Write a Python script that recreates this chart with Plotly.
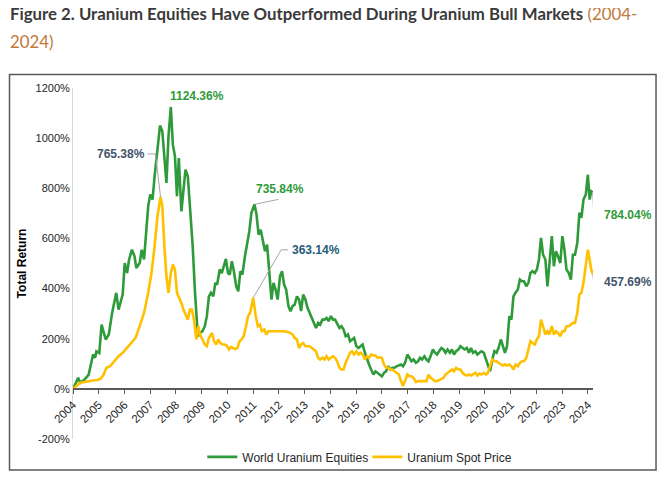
import plotly.graph_objects as go

# ---------------- data ----------------
years = list(range(2004, 2025))
year_labels = [str(y) for y in years]
y_ticks = [-200, 0, 200, 400, 600, 800, 1000, 1200]
y_tick_labels = [f"{v}%" for v in y_ticks]

equities_x = [
    2004.00, 2004.20, 2004.28, 2004.45, 2004.61, 2004.69, 2004.78, 2004.86, 2004.91, 2005.02,
    2005.11, 2005.27, 2005.39, 2005.52, 2005.68, 2005.77, 2005.93, 2006.01, 2006.10, 2006.18,
    2006.29, 2006.39, 2006.46, 2006.59, 2006.67, 2006.76, 2006.84, 2006.92, 2007.00, 2007.09,
    2007.17, 2007.25, 2007.38, 2007.47, 2007.55, 2007.63, 2007.71, 2007.80, 2007.88, 2007.96,
    2008.04, 2008.11, 2008.21, 2008.29, 2008.37, 2008.46, 2008.52, 2008.60, 2008.65, 2008.74,
    2008.79, 2008.85, 2008.93, 2009.03, 2009.12, 2009.20, 2009.28, 2009.36, 2009.45, 2009.53,
    2009.60, 2009.70, 2009.78, 2009.86, 2009.94, 2010.02, 2010.09, 2010.17, 2010.25, 2010.34,
    2010.42, 2010.50, 2010.58, 2010.68, 2010.77, 2010.85, 2010.93, 2011.05, 2011.13, 2011.21,
    2011.29, 2011.38, 2011.46, 2011.54, 2011.62, 2011.71, 2011.79, 2011.87, 2011.95, 2012.04,
    2012.12, 2012.20, 2012.28, 2012.37, 2012.45, 2012.53, 2012.61, 2012.70, 2012.78, 2012.86,
    2012.94, 2013.03, 2013.11, 2013.19, 2013.27, 2013.36, 2013.44, 2013.52, 2013.60, 2013.69,
    2013.77, 2013.85, 2013.93, 2014.02, 2014.10, 2014.18, 2014.26, 2014.35, 2014.43, 2014.51,
    2014.59, 2014.68, 2014.76, 2014.84, 2014.92, 2015.01, 2015.09, 2015.17, 2015.25, 2015.34,
    2015.42, 2015.50, 2015.58, 2015.67, 2015.75, 2015.83, 2015.91, 2016.00, 2016.08, 2016.16,
    2016.24, 2016.33, 2016.41, 2016.49, 2016.57, 2016.66, 2016.74, 2016.82, 2016.90, 2016.99,
    2017.07, 2017.15, 2017.23, 2017.32, 2017.40, 2017.48, 2017.56, 2017.65, 2017.73, 2017.81,
    2017.89, 2017.98, 2018.06, 2018.14, 2018.22, 2018.31, 2018.39, 2018.47, 2018.55, 2018.64,
    2018.72, 2018.80, 2018.88, 2018.97, 2019.05, 2019.13, 2019.21, 2019.30, 2019.38, 2019.46,
    2019.54, 2019.63, 2019.71, 2019.79, 2019.87, 2019.96, 2020.04, 2020.12, 2020.20, 2020.29,
    2020.37, 2020.45, 2020.53, 2020.62, 2020.70, 2020.78, 2020.86, 2020.95, 2021.03, 2021.11,
    2021.19, 2021.28, 2021.36, 2021.44, 2021.52, 2021.61, 2021.69, 2021.77, 2021.85, 2021.94,
    2022.02, 2022.10, 2022.18, 2022.26, 2022.35, 2022.43, 2022.51, 2022.60, 2022.68, 2022.76,
    2022.84, 2022.93, 2023.01, 2023.09, 2023.17, 2023.26, 2023.34, 2023.42, 2023.50, 2023.59,
    2023.67, 2023.75, 2023.83, 2023.92, 2024.00, 2024.07, 2024.13, 2024.19,
]
equities = [
    0, 44, 24, 37, 57, 90, 137, 124, 150, 143,
    256, 197, 217, 303, 383, 316, 376, 502, 462, 516,
    555, 529, 482, 502, 555, 516, 622, 728, 775, 755,
    848, 928, 1050, 1027, 914, 821, 1007, 1124.36, 974, 928,
    768, 921, 708, 781, 874, 848, 755, 662, 569, 383,
    276, 210, 223, 230, 250, 290, 369, 383, 369, 423,
    416, 476, 462, 496, 518, 462, 456, 509, 469, 409,
    389, 469, 456, 529, 589, 629, 702, 735.84, 695, 615,
    635, 595, 549, 575, 462, 356, 423, 396, 356, 449,
    469, 416, 396, 330, 310, 330, 336, 369, 356, 310,
    376, 356, 323, 303, 283, 263, 243, 263, 256, 276,
    276, 283, 270, 290, 276, 276, 263, 243, 250, 237,
    210, 217, 190, 197, 203, 170, 163, 170, 177, 144,
    117, 97, 77, 57, 70, 64, 57, 50, 64, 70,
    90, 77, 84, 84, 90, 93, 97, 90, 104, 137,
    124, 110, 117, 104, 110, 124, 117, 130, 117, 110,
    130, 157, 144, 137, 150, 163, 157, 144, 157, 144,
    157, 137, 150, 157, 170, 163, 157, 163, 144, 163,
    144, 150, 137, 144, 150, 144, 117, 97, 70, 117,
    150, 144, 163, 197, 170, 144, 170, 290, 276, 369,
    383, 396, 436, 429, 429, 409, 423, 462, 469, 462,
    476, 516, 602, 535, 516, 409, 502, 609, 489, 549,
    529, 502, 609, 555, 476, 462, 436, 535, 535, 582,
    702, 682, 755, 775, 854, 755, 788, 784.04,
]

spot_x = [
    2004.00, 2004.12, 2004.28, 2004.45, 2004.61, 2004.78, 2004.94, 2005.07, 2005.19, 2005.30,
    2005.44, 2005.60, 2005.77, 2005.93, 2006.10, 2006.26, 2006.43, 2006.59, 2006.76, 2006.92,
    2007.05, 2007.17, 2007.28, 2007.40, 2007.47, 2007.55, 2007.63, 2007.71, 2007.80, 2007.88,
    2007.96, 2008.04, 2008.13, 2008.21, 2008.29, 2008.37, 2008.46, 2008.54, 2008.62, 2008.70,
    2008.79, 2008.87, 2008.93, 2009.03, 2009.12, 2009.20, 2009.28, 2009.40, 2009.48, 2009.56,
    2009.64, 2009.73, 2009.81, 2009.89, 2009.97, 2010.06, 2010.14, 2010.22, 2010.30, 2010.39,
    2010.47, 2010.55, 2010.63, 2010.72, 2010.80, 2010.88, 2011.00, 2011.10, 2011.18, 2011.26,
    2011.34, 2011.43, 2011.51, 2011.59, 2011.71, 2011.87, 2012.04, 2012.20, 2012.37, 2012.53,
    2012.61, 2012.70, 2012.78, 2012.86, 2012.94, 2013.03, 2013.19, 2013.36, 2013.44, 2013.52,
    2013.60, 2013.69, 2013.77, 2013.85, 2013.93, 2014.02, 2014.10, 2014.18, 2014.26, 2014.35,
    2014.43, 2014.51, 2014.59, 2014.68, 2014.76, 2014.84, 2014.92, 2015.01, 2015.09, 2015.17,
    2015.25, 2015.34, 2015.42, 2015.50, 2015.58, 2015.67, 2015.75, 2015.83, 2015.91, 2016.00,
    2016.08, 2016.16, 2016.24, 2016.33, 2016.41, 2016.49, 2016.57, 2016.66, 2016.74, 2016.82,
    2016.90, 2016.99, 2017.07, 2017.15, 2017.23, 2017.32, 2017.40, 2017.48, 2017.56, 2017.65,
    2017.73, 2017.81, 2017.89, 2017.98, 2018.06, 2018.14, 2018.22, 2018.31, 2018.39, 2018.47,
    2018.55, 2018.64, 2018.72, 2018.80, 2018.88, 2018.97, 2019.05, 2019.13, 2019.21, 2019.30,
    2019.38, 2019.46, 2019.54, 2019.63, 2019.71, 2019.79, 2019.87, 2019.96, 2020.04, 2020.12,
    2020.20, 2020.29, 2020.37, 2020.45, 2020.53, 2020.62, 2020.70, 2020.78, 2020.86, 2020.95,
    2021.03, 2021.11, 2021.19, 2021.28, 2021.36, 2021.44, 2021.52, 2021.61, 2021.69, 2021.77,
    2021.85, 2021.94, 2022.02, 2022.10, 2022.18, 2022.26, 2022.35, 2022.43, 2022.51, 2022.60,
    2022.68, 2022.76, 2022.84, 2022.93, 2023.01, 2023.09, 2023.17, 2023.26, 2023.34, 2023.42,
    2023.50, 2023.59, 2023.67, 2023.75, 2023.83, 2023.92, 2024.00, 2024.07, 2024.13, 2024.19,
]
spot = [
    0, 11, 24, 27, 31, 33, 35, 40, 57, 84,
    90, 110, 130, 144, 163, 183, 203, 250, 303, 383,
    462, 569, 688, 765.38, 728, 569, 449, 383, 462, 496,
    476, 383, 363, 343, 316, 296, 276, 316, 316, 276,
    197, 250, 217, 197, 177, 170, 203, 223, 190, 177,
    197, 183, 177, 177, 173, 157, 167, 163, 159, 163,
    190, 197, 210, 250, 290, 303, 363.14, 290, 250, 256,
    230, 237, 217, 230, 230, 230, 230, 230, 226, 217,
    203, 197, 163, 177, 183, 170, 170, 157, 150, 124,
    117, 124, 117, 130, 117, 124, 130, 124, 110, 84,
    77, 77, 104, 124, 144, 150, 137, 150, 137, 144,
    137, 117, 130, 124, 137, 133, 133, 124, 126, 124,
    97, 84, 84, 77, 77, 70, 64, 57, 31, 11,
    31, 57, 50, 50, 44, 27, 31, 31, 31, 31,
    31, 57, 44, 37, 31, 31, 35, 37, 44, 57,
    64, 70, 77, 70, 84, 77, 77, 64, 57, 53,
    57, 53, 57, 64, 53, 61, 57, 64, 57, 64,
    90, 117, 110, 110, 104, 97, 93, 97, 93, 97,
    90, 77, 97, 90, 104, 110, 110, 124, 157, 190,
    183, 177, 197, 210, 276, 250, 217, 230, 217, 250,
    217, 230, 223, 210, 230, 230, 250, 250, 256, 263,
    263, 303, 376, 383, 423, 489, 555, 516, 476, 457.69,
]

GREEN = "#2f9a3a"
YELLOW = "#ffc000"
SLATE = "#44546a"
TEAL = "#1f5c7a"
GRAY = "#a6a6a6"
FONT = "Liberation Sans, Arial, sans-serif"
TITLE_FONT = "Lato, Roboto, sans-serif"

fig = go.Figure()
fig.add_trace(go.Scatter(x=equities_x, y=equities, mode="lines", name="World Uranium Equities",
                         line=dict(color=GREEN, width=2.6), cliponaxis=False))
fig.add_trace(go.Scatter(x=spot_x, y=spot, mode="lines", name="Uranium Spot Price",
                         line=dict(color=YELLOW, width=2.6), cliponaxis=False))

# annotation anchors taken from the data
ge_i = equities.index(max(equities))
sp_i = spot.index(max(spot))
ge2_i = equities.index(735.84)
sp2_i = spot.index(363.14)
ge_last = len(equities) - 1
sp_last = len(spot) - 1

def label(x, y, text, color, xshift, yshift, xanchor):
    fig.add_annotation(x=x, y=y, xref="x", yref="y", text=f"<b>{text}</b>", showarrow=False,
                       xshift=xshift, yshift=yshift, xanchor=xanchor, yanchor="middle",
                       font=dict(family=FONT, size=12, color=color))

def connector(x, y, pts):
    for (a, b), (c, d) in zip(pts[:-1], pts[1:]):
        fig.add_shape(type="line", xref="x", yref="y", xsizemode="pixel", ysizemode="pixel",
                      xanchor=x, yanchor=y, x0=a, y0=b, x1=c, y1=d,
                      line=dict(color=GRAY, width=1))

label(equities_x[ge_i], equities[ge_i], f"{equities[ge_i]:.2f}%", GREEN, 26, 11, "center")
label(spot_x[sp_i], spot[sp_i], f"{spot[sp_i]:.2f}%", SLATE, -14, 43, "right")
connector(spot_x[sp_i], spot[sp_i], [(0, 0), (-5, 43), (-13, 43)])
label(equities_x[ge2_i], equities[ge2_i], f"{equities[ge2_i]:.2f}%", GREEN, 0, 15, "left")
connector(equities_x[ge2_i], equities[ge2_i], [(0, 0), (24, 5)])
label(spot_x[sp2_i], spot[sp2_i], f"{spot[sp2_i]:.2f}%", TEAL, 37, 48, "left")
connector(spot_x[sp2_i], spot[sp2_i], [(0, 0), (28, 48), (35, 48)])
label(equities_x[ge_last], equities[ge_last], f"{equities[ge_last]:.2f}%", GREEN, 9, -23, "left")
connector(equities_x[ge_last], equities[ge_last], [(0, 0), (1, -22), (7, -22)])
label(spot_x[sp_last], spot[sp_last], f"{spot[sp_last]:.2f}%", SLATE, 9, -8, "left")
connector(spot_x[sp_last], spot[sp_last], [(0, 0), (1, -8), (7, -8)])

# title (two lines, placed in paper coordinates relative to the 520 x 351 plot box)
fig.add_annotation(
    xref="paper", yref="paper", x=-0.1245, y=(351 + 75) / 351, xanchor="left", yanchor="middle",
    showarrow=False, align="left",
    text=("<b>Figure 2. Uranium Equities Have Outperformed During Uranium Bull Markets</b>"
          "<span style='color:#c0783c'> (2004-</span>"),
    font=dict(family=TITLE_FONT, size=16.8, color="#3a3a3a"))
fig.add_annotation(
    xref="paper", yref="paper", x=-0.1245, y=(351 + 46) / 351, xanchor="left", yanchor="middle",
    showarrow=False, align="left",
    text="2024)",
    font=dict(family=TITLE_FONT, size=16.8, color="#c0783c"))

# outer frame
fig.add_shape(type="rect", xref="paper", yref="paper", x0=-0.1221, x1=1.1212, y0=-0.0883, y1=1.0385,
              line=dict(color="#595959", width=1.5), layer="below")

# the page body adds an 8px offset, so the figure is 8px smaller on each axis
fig.update_layout(
    width=657, height=472,
    margin=dict(l=65, r=72, t=80, b=41, autoexpand=False),
    paper_bgcolor="white", plot_bgcolor="white",
    font=dict(family=FONT, color="#404040"),
    showlegend=True,
    legend=dict(orientation="h", x=0.566, xanchor="center", y=-0.051, yanchor="middle",
                font=dict(family=FONT, size=12, color="#262626"), itemwidth=30,
                entrywidth=120, bgcolor="rgba(0,0,0,0)"),
    xaxis=dict(range=[2004, 2024.2], tickmode="array", tickvals=years, ticktext=year_labels,
               tickangle=-45, anchor="free", position=200 / 1400, automargin=False,
               showline=True, linecolor="#595959", linewidth=1.5,
               ticks="outside", ticklen=4, tickcolor="#595959", tickwidth=1,
               showgrid=False, zeroline=False,
               tickfont=dict(family=FONT, size=11.5, color="#262626")),
    yaxis=dict(range=[-200, 1200], tickmode="array", tickvals=y_ticks, ticktext=y_tick_labels,
               showline=True, linecolor="#d9d9d9", linewidth=1, automargin=False,
               showgrid=False, zeroline=False, ticks="",
               tickfont=dict(family=FONT, size=11, color="#262626"),
               title=dict(text="<b>Total Return</b>", standoff=6,
                          font=dict(family=FONT, size=12, color="#000000"))),
)

fig.write_html("out.html")
